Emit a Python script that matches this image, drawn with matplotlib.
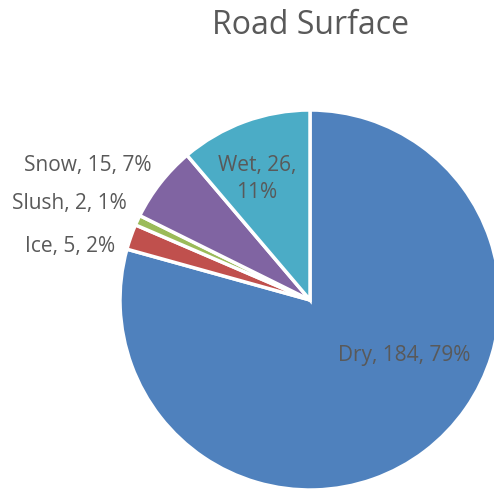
import matplotlib
matplotlib.use("Agg")
import matplotlib.pyplot as plt

categories = ["Dry", "Ice", "Slush", "Snow", "Wet"]
values = [184, 5, 2, 15, 26]
percents = ["79%", "2%", "1%", "7%", "11%"]
colors = ["#4F81BD", "#C0504D", "#9BBB59", "#8064A2", "#4BACC6"]

plt.rcParams['font.family'] = ['Open Sans', 'DejaVu Sans']

W, H = 494, 491
fig = plt.figure(figsize=(W / 100, H / 100), dpi=100)
cx, cy, r = 310, 300, 190
ax = fig.add_axes([(cx - r) / W, 1 - (cy + r) / H, 2 * r / W, 2 * r / H])

labels = []
for c, v, p in zip(categories, values, percents):
    if c == "Wet":
        labels.append(f"{c}, {v},\n{p}")
    else:
        labels.append(f"{c}, {v}, {p}")

wedges, texts = ax.pie(values, colors=colors, startangle=90, counterclock=False,
                       labels=labels, radius=1.0,
                       wedgeprops=dict(edgecolor="white", linewidth=2.5),
                       textprops=dict(color="#595959", fontsize=15))

def px(x, y):
    return ((x - cx) / r, (cy - y) / r)

positions = {
    "Dry": (404, 355),
    "Ice": (70, 247),
    "Slush": (69, 204),
    "Snow": (88, 166),
    "Wet": (257, 179),
}
for t, c in zip(texts, categories):
    x, y = positions[c]
    t.set_position(px(x, y))
    t.set_ha("center")
    t.set_va("center")
    t.set_multialignment("center")
    t.set_linespacing(1.35)

ax.set_xlim(-1, 1)
ax.set_ylim(-1, 1)
ax.set_aspect("equal")
ax.axis("off")

fig.text(310 / W, 1 - 25 / H, "Road Surface", ha="center", va="center",
         fontsize=23, color="#595959")

fig.savefig("out.png", dpi=100)
